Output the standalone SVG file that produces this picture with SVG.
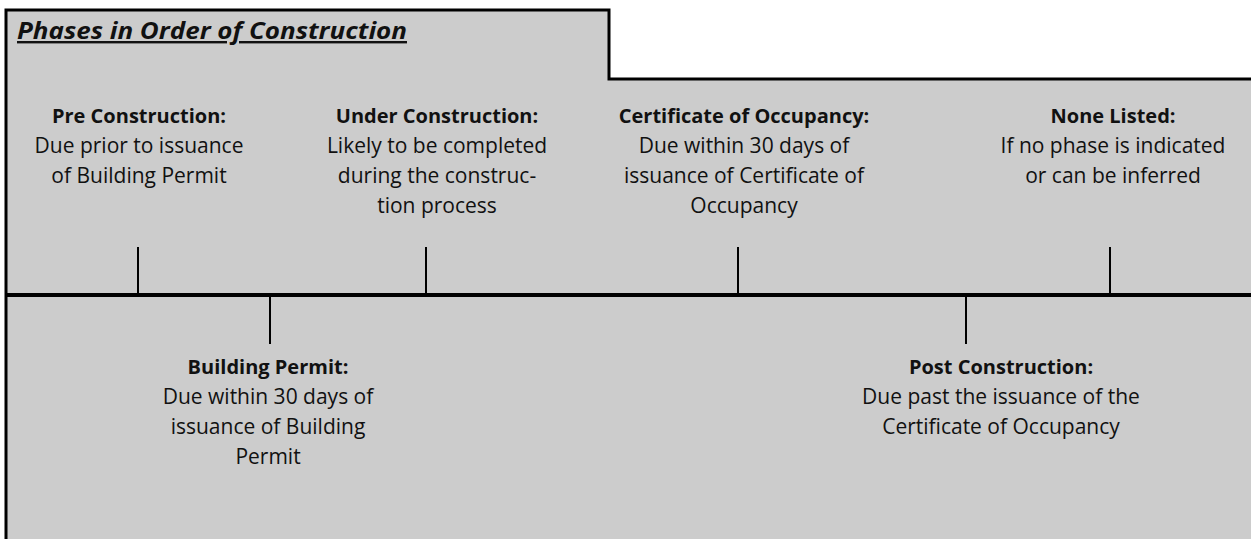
<svg xmlns="http://www.w3.org/2000/svg" width="1251" height="539" viewBox="0 0 1251 539">
<style>
.t{font-family:"Open Sans","Noto Sans","Liberation Sans",sans-serif;font-size:21px;fill:#111;text-anchor:middle}
.b{font-weight:bold;font-size:20px}
.ln{stroke:#000;stroke-width:2;fill:none}
</style>
<rect x="0" y="0" width="1251" height="539" fill="#fff"/>
<path d="M6,539 V10 H609 V79 H1251 V539 Z" fill="#cccccc"/>
<path d="M6,539 V10 H609 V79 H1251" fill="none" stroke="#000" stroke-width="3"/>
<g id="title">
<text x="17" y="39" font-family="'Open Sans','Noto Sans',sans-serif" font-size="24" font-weight="bold" font-style="italic" text-decoration="underline" textLength="390" lengthAdjust="spacingAndGlyphs" fill="#111">Phases in Order of Construction</text>
</g>
<g id="connectors">
<line x1="6" y1="295" x2="1251" y2="295" stroke="#000" stroke-width="4"/>
<line class="ln" x1="138" y1="247" x2="138" y2="295"/>
<line class="ln" x1="426" y1="247" x2="426" y2="295"/>
<line class="ln" x1="738" y1="247" x2="738" y2="295"/>
<line class="ln" x1="1110" y1="247" x2="1110" y2="295"/>
<line class="ln" x1="270" y1="295" x2="270" y2="344"/>
<line class="ln" x1="966" y1="295" x2="966" y2="344"/>
</g>
<g id="pre">
<text class="t b" x="139" y="123">Pre Construction:</text>
<text class="t" x="139" y="153">Due prior to issuance</text>
<text class="t" x="139" y="183">of Building Permit</text>
</g>
<g id="under">
<text class="t b" x="437" y="123">Under Construction:</text>
<text class="t" x="437" y="153">Likely to be completed</text>
<text class="t" x="437" y="183">during the construc-</text>
<text class="t" x="437" y="213">tion process</text>
</g>
<g id="cert">
<text class="t b" x="744" y="123">Certificate of Occupancy:</text>
<text class="t" x="744" y="153">Due within 30 days of</text>
<text class="t" x="744" y="183">issuance of Certificate of</text>
<text class="t" x="744" y="213">Occupancy</text>
</g>
<g id="none">
<text class="t b" x="1113" y="123">None Listed:</text>
<text class="t" x="1113" y="153">If no phase is indicated</text>
<text class="t" x="1113" y="183">or can be inferred</text>
</g>
<g id="permit">
<text class="t b" x="268" y="374">Building Permit:</text>
<text class="t" x="268" y="404">Due within 30 days of</text>
<text class="t" x="268" y="434">issuance of Building</text>
<text class="t" x="268" y="464">Permit</text>
</g>
<g id="post">
<text class="t b" x="1001" y="374">Post Construction:</text>
<text class="t" x="1001" y="404">Due past the issuance of the</text>
<text class="t" x="1001" y="434">Certificate of Occupancy</text>
</g>
</svg>
